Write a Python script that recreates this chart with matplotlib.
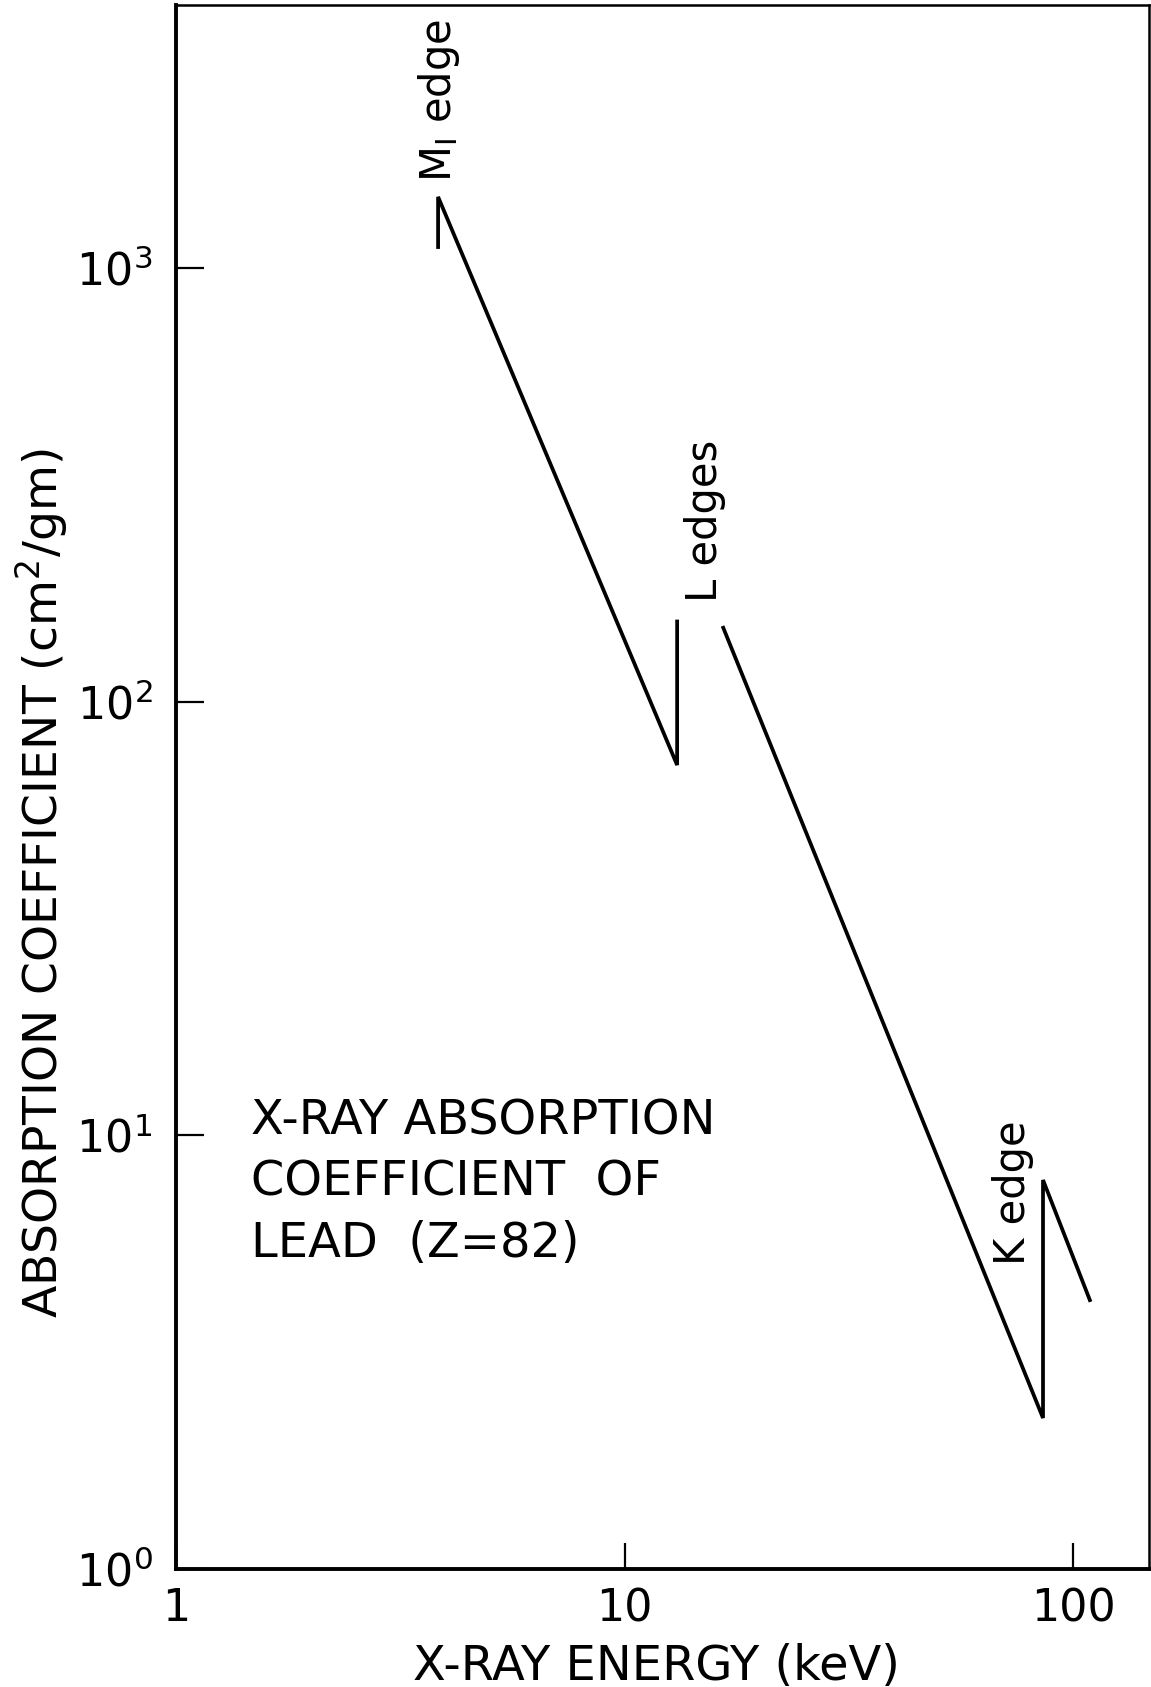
import matplotlib

matplotlib.use("Agg")
from matplotlib import pyplot as plt
from matplotlib.ticker import NullLocator

# absorption curve of lead
# branch from the M1 edge down to the L3 edge
energy_low = [3.84, 3.84, 13.1, 13.1]
coef_low = [1117, 1458, 71.4, 153]
# branch above the L edges, through the K edge
energy_high = [16.6, 85.7, 85.7, 109]
coef_high = [148, 2.23, 7.89, 4.17]

x_ticks = [1, 10, 100]
x_tick_labels = ["1", "10", "100"]
y_ticks = [1, 10, 100, 1000]
y_tick_labels = [r"$\mathregular{10^0}$", r"$\mathregular{10^1}$",
                 r"$\mathregular{10^2}$", r"$\mathregular{10^3}$"]

plt.rcParams["font.family"] = ["DejaVu Sans"]

fig = plt.figure(figsize=(11.51, 16.87), dpi=100)
ax = fig.add_axes([0.1529, 0.0699, 0.8454, 0.9271])

ax.plot(energy_low, coef_low, color="black", lw=2.7, solid_joinstyle="miter")
ax.plot(energy_high, coef_high, color="black", lw=2.7, solid_joinstyle="miter")

ax.set_xscale("log")
ax.set_yscale("log")
ax.set_xlim(1, 147.7)
ax.set_ylim(1, 4036)

ax.set_xticks(x_ticks)
ax.set_xticklabels(x_tick_labels)
ax.set_yticks(y_ticks)
ax.set_yticklabels(y_tick_labels)
ax.xaxis.set_minor_locator(NullLocator())
ax.yaxis.set_minor_locator(NullLocator())
ax.tick_params(axis="x", direction="in", length=19, width=1.6, pad=13, labelsize=32)
ax.tick_params(axis="y", direction="in", length=20, width=1.6, pad=17, labelsize=32)

for side in ["left", "bottom"]:
    ax.spines[side].set_linewidth(2.8)
for side in ["top", "right"]:
    ax.spines[side].set_linewidth(1.8)

ax.set_xlabel("X-RAY ENERGY (keV)", fontsize=34.5)
ax.xaxis.set_label_coords(0.494, -0.0473)
ax.set_ylabel(r"ABSORPTION COEFFICIENT (cm$^{2}$/gm)", fontsize=34, va="center")
ax.yaxis.set_label_coords(-0.1377, 0.4386)

ax.text(0.077, 0.2475, "X-RAY ABSORPTION\nCOEFFICIENT  OF\nLEAD  (Z=82)",
        transform=ax.transAxes, fontsize=34.5, ha="left", va="center",
        linespacing=1.38)

ax.text(0.2703, 0.8868, r"$\mathregular{M_I}$ edge", transform=ax.transAxes,
        fontsize=30, rotation=90, ha="center", va="bottom")
ax.text(0.5437, 0.6183, "L edges", transform=ax.transAxes,
        fontsize=30, rotation=90, ha="center", va="bottom")
ax.text(0.8602, 0.1944, "K edge", transform=ax.transAxes,
        fontsize=30, rotation=90, ha="center", va="bottom")

fig.savefig("out.png", dpi=100)
